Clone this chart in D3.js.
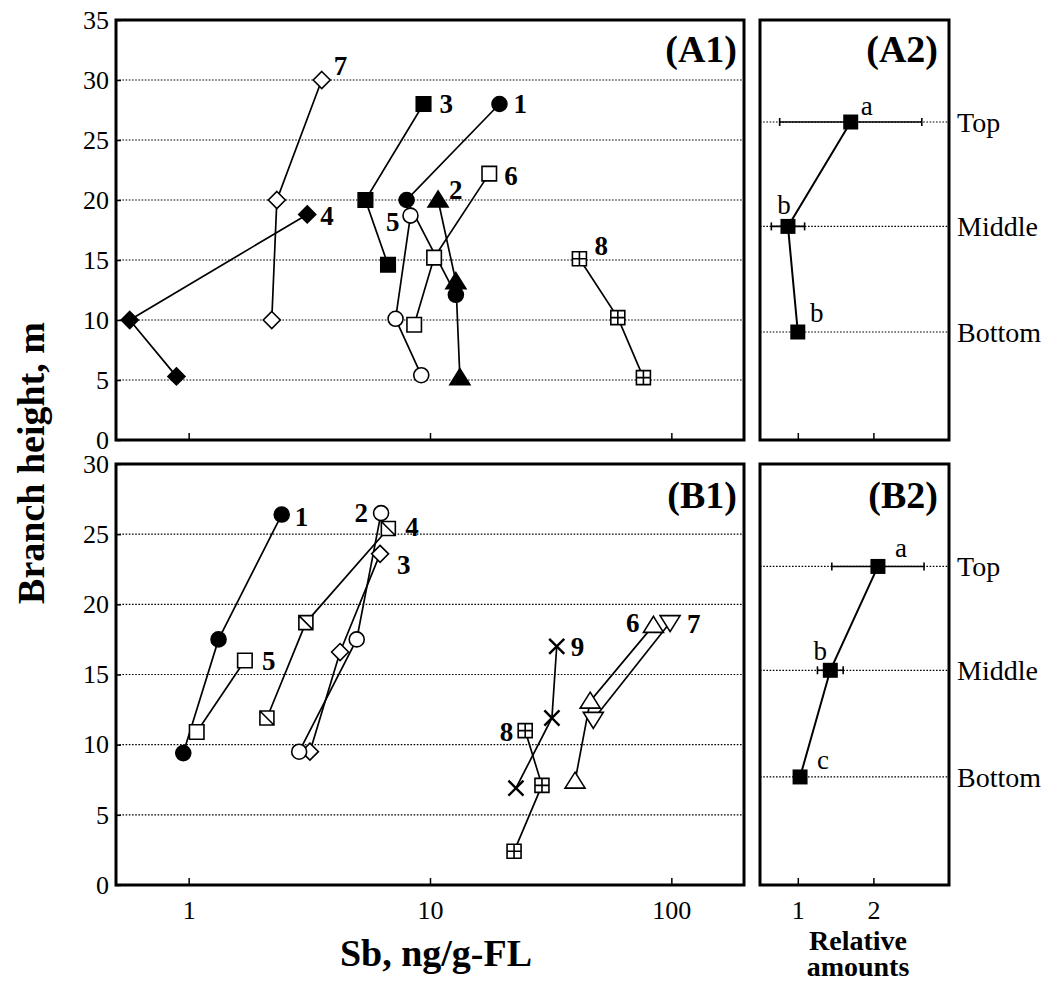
<!DOCTYPE html>
<html>
<head>
<meta charset="utf-8">
<script src="https://d3js.org/d3.v7.min.js"></script>
<style>
  body { margin: 0; background: #fff; }
  svg { display: block; font-family: "Liberation Serif", "Times New Roman", serif; }
</style>
</head>
<body>
<svg width="1053" height="983"></svg>
<script>
// ---- data: panel A1 (Sb vs branch height, trees 1-8) ----
var a1Ids = ["1", "2", "3", "4", "5", "6", "7", "8"];
var a1Sb = [
  [19.4, 8.0, 12.8],
  [10.8, 12.8, 13.3],
  [9.4, 5.4, 6.7],
  [3.1, 0.57, 0.89],
  [8.3, 7.2, 9.2],
  [17.6, 10.4, 8.6],
  [3.56, 2.32, 2.21],
  [41.6, 60, 76.6]
];
var a1Height = [
  [28, 20, 12.1],
  [20, 13.2, 5.2],
  [28, 20, 14.6],
  [18.8, 10, 5.3],
  [18.7, 10.1, 5.4],
  [22.2, 15.2, 9.6],
  [30, 20, 10],
  [15.1, 10.2, 5.2]
];

// ---- data: panel B1 (trees 1-9) ----
var b1Ids = ["1", "2", "3", "4", "5", "6", "7", "8", "9"];
var b1Sb = [
  [2.43, 1.33, 0.95],
  [6.27, 4.97, 2.87],
  [6.21, 4.24, 3.18],
  [6.72, 3.06, 2.11],
  [1.71, 1.08],
  [84.3, 46.1, 39.9],
  [98.8, 47.5],
  [24.8, 29.1, 22.3],
  [33.5, 32.0, 22.7]
];
var b1Height = [
  [26.4, 17.5, 9.4],
  [26.5, 17.5, 9.5],
  [23.6, 16.6, 9.5],
  [25.4, 18.7, 11.9],
  [16.0, 10.9],
  [18.5, 13.1, 7.4],
  [18.7, 11.8],
  [11.0, 7.1, 2.4],
  [17.0, 11.9, 6.9]
];

// ---- data: relative amounts (A2, B2) ----
var levels = ["Top", "Middle", "Bottom"];
var a2LevelHeight = [26.5, 17.8, 9.0];
var a2Mean = [1.70, 0.87, 1.00];
var a2Err = [0.94, 0.22, 0];
var a2Group = ["a", "b", "b"];
var b2LevelHeight = [22.7, 15.3, 7.7];
var b2Mean = [2.06, 1.43, 1.03];
var b2Err = [0.61, 0.17, 0];
var b2Group = ["a", "b", "c"];

var sbTicks = [1, 10, 100];
var relTicks = [1, 2];

// ---- styles ----
var a1Style = {
  "1": {shape: "circle", fill: true, lx: 14, ly: 0, anchor: "start"},
  "2": {shape: "triUp", fill: true, lx: 11, ly: -10, anchor: "start"},
  "3": {shape: "square", fill: true, lx: 16, ly: 0, anchor: "start"},
  "4": {shape: "diamond", fill: true, lx: 13, ly: 1, anchor: "start"},
  "5": {shape: "circle", fill: false, lx: -11, ly: 6, anchor: "end"},
  "6": {shape: "square", fill: false, lx: 15, ly: 2, anchor: "start"},
  "7": {shape: "diamond", fill: false, lx: 12, ly: -14, anchor: "start"},
  "8": {shape: "sqPlus", fill: false, lx: 15, ly: -13, anchor: "start"}
};
var b1Style = {
  "1": {shape: "circle", fill: true, lx: 13, ly: 2, anchor: "start"},
  "2": {shape: "circle", fill: false, lx: -13, ly: -1, anchor: "end"},
  "3": {shape: "diamond", fill: false, lx: 17, ly: 11, anchor: "start"},
  "4": {shape: "sqDiag", fill: false, lx: 17, ly: -2, anchor: "start"},
  "5": {shape: "square", fill: false, lx: 17, ly: 0, anchor: "start"},
  "6": {shape: "triUp", fill: false, lx: -14, ly: -3, anchor: "end"},
  "7": {shape: "triDown", fill: false, lx: 17, ly: 1, anchor: "start"},
  "8": {shape: "sqPlus", fill: false, lx: -12, ly: 1, anchor: "end"},
  "9": {shape: "times", fill: false, lx: 14, ly: 0, anchor: "start"}
};

var svg = d3.select("svg");

var xSb = d3.scaleLog().domain([0.5, 200]).range([116, 744]);
var xRel = d3.scaleLinear().domain([0.5, 3]).range([760, 949]);
var yA = d3.scaleLinear().domain([0, 35]).range([440, 20]);
var yB = d3.scaleLinear().domain([0, 30]).range([885, 464]);

function markerPath(shape) {
  var p, h;
  if (shape == "circle") return d3.symbol(d3.symbolCircle, Math.PI * 7.5 * 7.5)();
  if (shape == "square") return d3.symbol(d3.symbolSquare, 14.5 * 14.5)();
  if (shape == "times") return d3.symbol(d3.symbolTimes, 150)();
  p = d3.path();
  if (shape == "diamond") {
    h = 8.5;
    p.moveTo(0, -h); p.lineTo(h, 0); p.lineTo(0, h); p.lineTo(-h, 0); p.closePath();
  } else if (shape == "triUp") {
    p.moveTo(0, -9); p.lineTo(10, 7); p.lineTo(-10, 7); p.closePath();
  } else if (shape == "triDown") {
    p.moveTo(0, 9); p.lineTo(10, -7); p.lineTo(-10, -7); p.closePath();
  } else if (shape == "sqPlus") {
    h = 7;
    p.rect(-h, -h, 2 * h, 2 * h);
    p.moveTo(-h, 0); p.lineTo(h, 0);
    p.moveTo(0, -h); p.lineTo(0, h);
  } else if (shape == "sqDiag") {
    h = 7;
    p.rect(-h, -h, 2 * h, 2 * h);
    p.moveTo(-h, -h); p.lineTo(h, h);
  }
  return p.toString();
}

function grid(y, values, x0, x1) {
  svg.append("g")
    .selectAll("line")
    .data(values)
    .enter().append("line")
      .attr("x1", x0).attr("x2", x1)
      .attr("y1", function(d) { return y(d); })
      .attr("y2", function(d) { return y(d); })
      .attr("stroke", "#000")
      .attr("stroke-width", 1.2)
      .attr("stroke-dasharray", "1.6,1.6");
}

function styleAxis(g, size) {
  g.select(".domain").remove();
  g.selectAll("line").attr("stroke-width", 1.5);
  g.selectAll("text")
    .attr("fill", "#000")
    .style("font-size", size + "px")
    .style("font-family", "'Liberation Serif', 'Times New Roman', serif");
}

function scatterPanel(ids, sb, heights, styles, y) {
  var line = d3.line()
    .x(function(d) { return xSb(d[0]); })
    .y(function(d) { return y(d[1]); });

  var series = ids.map(function(id, i) {
    return {id: id, style: styles[id], pts: sb[i].map(function(v, j) { return [v, heights[i][j]]; })};
  });

  svg.append("g").selectAll("path")
    .data(series)
    .enter().append("path")
      .attr("d", function(d) { return line(d.pts); })
      .attr("fill", "none")
      .attr("stroke", "#000")
      .attr("stroke-width", 1.7);

  var mk = svg.append("g");
  series.slice().reverse().forEach(function(s) {
    mk.selectAll(null)
      .data(s.pts)
      .enter().append("path")
        .attr("transform", function(d) { return "translate(" + xSb(d[0]) + "," + y(d[1]) + ")"; })
        .attr("d", markerPath(s.style.shape))
        .attr("fill", s.style.fill ? "#000" : "#fff")
        .attr("stroke", "#000")
        .attr("stroke-width", s.style.shape == "times" ? 2.4 : 1.6);
  });

  svg.append("g").selectAll("text")
    .data(series)
    .enter().append("text")
      .attr("x", function(d) { return xSb(d.pts[0][0]) + d.style.lx; })
      .attr("y", function(d) { return y(d.pts[0][1]) + d.style.ly; })
      .attr("dy", "0.35em")
      .attr("text-anchor", function(d) { return d.style.anchor; })
      .style("font-size", "27px")
      .style("font-weight", "bold")
      .text(function(d) { return d.id; });
}

function relPanel(levelH, mean, err, group, y, labOff) {
  grid(y, levelH, 760, 949);

  var rows = levels.map(function(l, i) {
    return {level: l, h: levelH[i], m: mean[i], e: err[i], g: group[i], off: labOff[i]};
  });

  var eb = svg.append("g").attr("stroke", "#000").attr("stroke-width", 1.6);
  rows.filter(function(d) { return d.e > 0; }).forEach(function(d) {
    eb.append("line")
      .attr("x1", xRel(d.m - d.e)).attr("x2", xRel(d.m + d.e))
      .attr("y1", y(d.h)).attr("y2", y(d.h));
    [d.m - d.e, d.m + d.e].forEach(function(v) {
      eb.append("line")
        .attr("x1", xRel(v)).attr("x2", xRel(v))
        .attr("y1", y(d.h) - 4).attr("y2", y(d.h) + 4);
    });
  });

  svg.append("path")
    .datum(rows)
    .attr("d", d3.line()
      .x(function(d) { return xRel(d.m); })
      .y(function(d) { return y(d.h); }))
    .attr("fill", "none")
    .attr("stroke", "#000")
    .attr("stroke-width", 2);

  svg.append("g").selectAll("path")
    .data(rows)
    .enter().append("path")
      .attr("transform", function(d) { return "translate(" + xRel(d.m) + "," + y(d.h) + ")"; })
      .attr("d", d3.symbol(d3.symbolSquare, 15 * 15)())
      .attr("fill", "#000");

  svg.append("g").selectAll("text")
    .data(rows)
    .enter().append("text")
      .attr("x", function(d) { return xRel(d.m) + d.off[0]; })
      .attr("y", function(d) { return y(d.h) + d.off[1]; })
      .attr("dy", "0.35em")
      .attr("text-anchor", "middle")
      .style("font-size", "27px")
      .text(function(d) { return d.g; });

  svg.append("g").selectAll("text")
    .data(rows)
    .enter().append("text")
      .attr("x", 957)
      .attr("y", function(d) { return y(d.h); })
      .attr("dy", "0.35em")
      .style("font-size", "28px")
      .text(function(d) { return d.level; });
}

// gridlines
grid(yA, d3.range(5, 35, 5), 116, 744);
grid(yB, d3.range(5, 30, 5), 116, 744);

// axes A1
svg.append("g")
  .attr("transform", "translate(0,440)")
  .call(d3.axisBottom(xSb).tickValues(sbTicks).tickSize(-7).tickFormat(""))
  .call(styleAxis, 26);
svg.append("g")
  .attr("transform", "translate(116,0)")
  .call(d3.axisLeft(yA).tickValues(d3.range(0, 36, 5)).tickSize(-5).tickPadding(7))
  .call(styleAxis, 26);

// axes B1
svg.append("g")
  .attr("transform", "translate(0,885)")
  .call(d3.axisBottom(xSb).tickValues(sbTicks).tickSize(-7).tickPadding(16).tickFormat(d3.format("d")))
  .call(styleAxis, 26);
svg.append("g")
  .attr("transform", "translate(116,0)")
  .call(d3.axisLeft(yB).tickValues(d3.range(0, 31, 5)).tickSize(-5).tickPadding(7))
  .call(styleAxis, 26);

// axes A2 / B2
svg.append("g")
  .attr("transform", "translate(0,440)")
  .call(d3.axisBottom(xRel).tickValues(relTicks).tickSize(-7).tickFormat(""))
  .call(styleAxis, 26);
svg.append("g")
  .attr("transform", "translate(0,885)")
  .call(d3.axisBottom(xRel).tickValues(relTicks).tickSize(-7).tickPadding(16).tickFormat(d3.format("d")))
  .call(styleAxis, 26);

scatterPanel(a1Ids, a1Sb, a1Height, a1Style, yA);
scatterPanel(b1Ids, b1Sb, b1Height, b1Style, yB);

relPanel(a2LevelHeight, a2Mean, a2Err, a2Group, yA, [[16, -16], [-4, -22], [19, -19]]);
relPanel(b2LevelHeight, b2Mean, b2Err, b2Group, yB, [[23, -19], [-10, -20], [23, -17]]);

// frames
[[116, 20, 744, 440], [760, 20, 949, 440], [116, 464, 744, 885], [760, 464, 949, 885]].forEach(function(r) {
  svg.append("rect")
    .attr("x", r[0]).attr("y", r[1])
    .attr("width", r[2] - r[0]).attr("height", r[3] - r[1])
    .attr("fill", "none")
    .attr("stroke", "#000")
    .attr("stroke-width", 3);
});

// panel titles
[["(A1)", 737, 62], ["(A2)", 938, 62], ["(B1)", 737, 508], ["(B2)", 938, 508]].forEach(function(t) {
  svg.append("text")
    .attr("x", t[1]).attr("y", t[2])
    .attr("text-anchor", "end")
    .style("font-size", "38px")
    .style("font-weight", "bold")
    .text(t[0]);
});

// axis titles
svg.append("text")
  .attr("transform", "translate(44,463) rotate(-90)")
  .attr("text-anchor", "middle")
  .style("font-size", "38px")
  .style("font-weight", "bold")
  .text("Branch height, m");

svg.append("text")
  .attr("x", 436).attr("y", 966)
  .attr("text-anchor", "middle")
  .style("font-size", "38px")
  .style("font-weight", "bold")
  .text("Sb, ng/g-FL");

svg.append("text")
  .attr("x", 858).attr("y", 950)
  .attr("text-anchor", "middle")
  .style("font-size", "28px")
  .style("font-weight", "bold")
  .text("Relative");
svg.append("text")
  .attr("x", 858).attr("y", 976)
  .attr("text-anchor", "middle")
  .style("font-size", "28px")
  .style("font-weight", "bold")
  .text("amounts");
</script>
</body>
</html>
